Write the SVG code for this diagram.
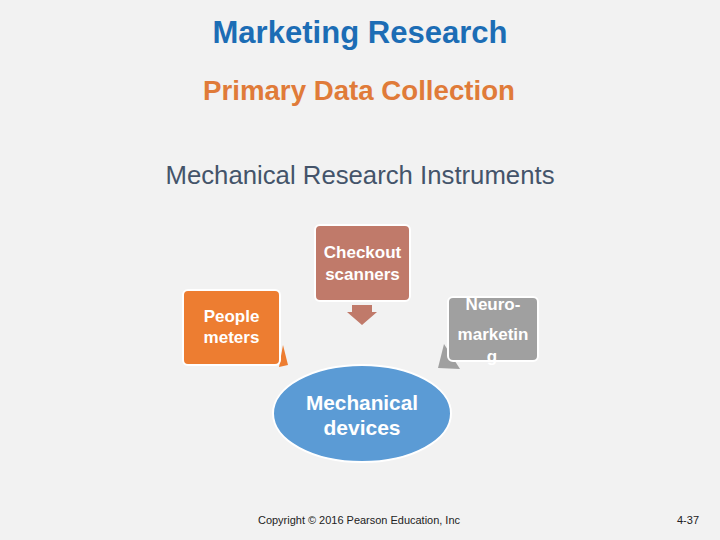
<svg xmlns="http://www.w3.org/2000/svg" width="720" height="540" viewBox="0 0 720 540">
  <style>
    .title { font-family: "Liberation Sans", Arial, sans-serif; text-anchor: middle; }
    .box { stroke: #ffffff; stroke-width: 2; }
    .lbl { font-family: "Liberation Sans", Arial, sans-serif; font-weight: bold; font-size: 17px; fill: #ffffff; text-anchor: middle; }
    .elbl { font-family: "Liberation Sans", Arial, sans-serif; font-weight: bold; font-size: 21px; fill: #ffffff; text-anchor: middle; }
    .foot { font-family: "Liberation Sans", Arial, sans-serif; font-size: 11px; fill: #222222; }
  </style>
  <rect x="0" y="0" width="720" height="540" fill="#f2f2f2"/>

  <text class="title" x="360" y="43" font-size="31" font-weight="bold" fill="#1c6db5" textLength="295" lengthAdjust="spacingAndGlyphs">Marketing Research</text>
  <text class="title" x="359" y="100" font-size="27" font-weight="bold" fill="#e07b39" textLength="312" lengthAdjust="spacingAndGlyphs">Primary Data Collection</text>
  <text class="title" x="360" y="184" font-size="26" fill="#44546a" textLength="389" lengthAdjust="spacingAndGlyphs">Mechanical Research Instruments</text>

  <g id="connectors">
    <polygon points="352,305 372,305 372,312 377,312 362,325 347,312 352,312" fill="#c07a6a"/>
    <polygon points="283,345 288,365 279,367" fill="#ed7d31"/>
    <polygon points="444,344 438,368 460,369" fill="#a0a0a0"/>
  </g>

  <g id="node-checkout">
    <rect class="box" x="315" y="225" width="95" height="76" rx="5" fill="#c07a6a"/>
    <text class="lbl" x="362.5" y="258">Checkout</text>
    <text class="lbl" x="362.5" y="280">scanners</text>
  </g>

  <g id="node-people">
    <rect class="box" x="183" y="290" width="97" height="75" rx="5" fill="#ed7d31"/>
    <text class="lbl" x="231.5" y="322">People</text>
    <text class="lbl" x="231.5" y="343">meters</text>
  </g>

  <g id="node-neuro">
    <rect class="box" x="448" y="297" width="90" height="64" rx="5" fill="#a0a0a0"/>
    <text class="lbl" x="493" y="310">Neuro-</text>
    <text class="lbl" x="493" y="340">marketin</text>
    <text class="lbl" x="492" y="362">g</text>
  </g>

  <g id="node-mechanical">
    <ellipse class="box" cx="362" cy="413.5" rx="89" ry="48.5" fill="#5b9bd5"/>
    <text class="elbl" x="362" y="410" textLength="112" lengthAdjust="spacingAndGlyphs">Mechanical</text>
    <text class="elbl" x="362" y="435">devices</text>
  </g>

  <text class="foot" x="258" y="524" textLength="202" lengthAdjust="spacingAndGlyphs">Copyright © 2016 Pearson Education, Inc</text>
  <text class="foot" x="677" y="524" textLength="22" lengthAdjust="spacingAndGlyphs">4-37</text>
</svg>
